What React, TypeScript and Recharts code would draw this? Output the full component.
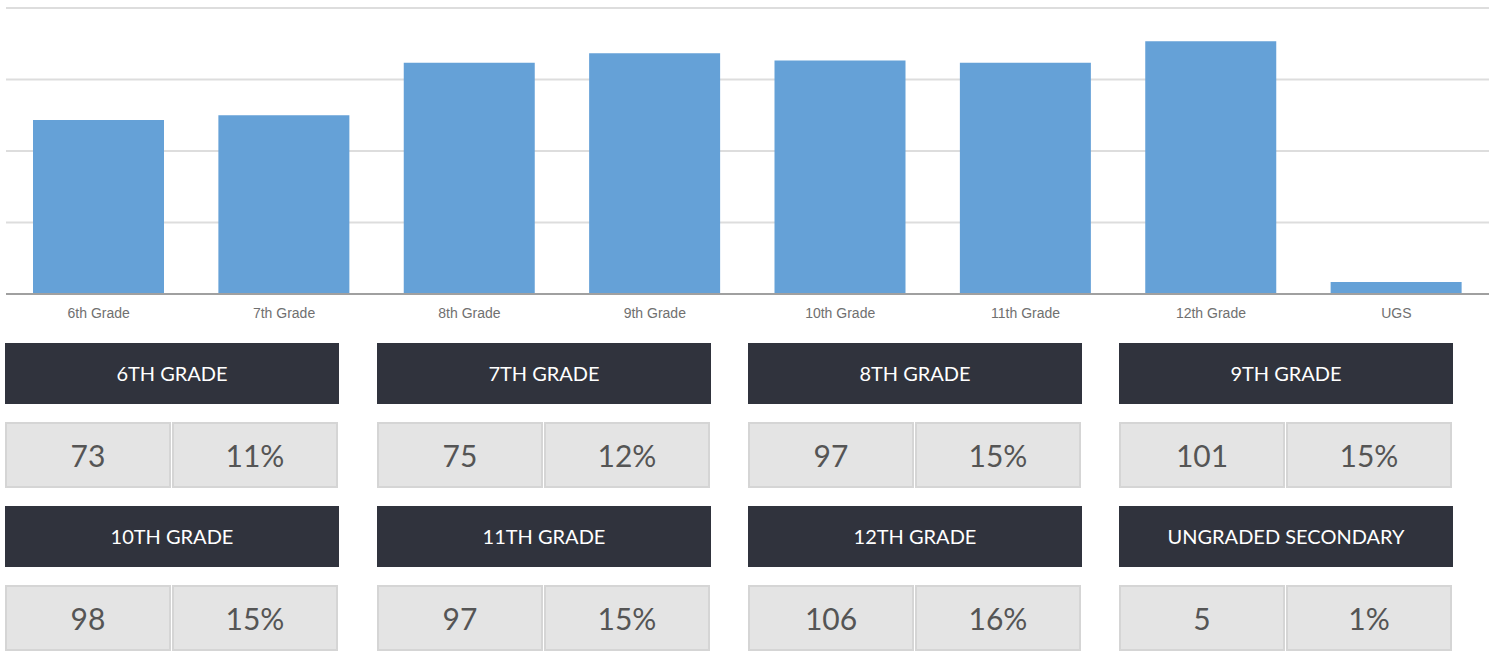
import { BarChart, Bar, XAxis, YAxis, CartesianGrid } from 'recharts';

const gradeLabels = ['6th Grade', '7th Grade', '8th Grade', '9th Grade', '10th Grade', '11th Grade', '12th Grade', 'UGS'];
const gradeTitles = ['6TH GRADE', '7TH GRADE', '8TH GRADE', '9TH GRADE', '10TH GRADE', '11TH GRADE', '12TH GRADE', 'UNGRADED SECONDARY'];
const students = [73, 75, 97, 101, 98, 97, 106, 5];
const percents = ['11%', '12%', '15%', '15%', '15%', '15%', '16%', '1%'];
const yTicks = [0, 30, 60, 90, 120];

const data = gradeLabels.map((grade, i) => ({ grade, count: students[i] }));

const colLeft = [5, 377, 748, 1119];
const rowTop = [343, 506];

function Tile({ i }: { i: number }) {
    const left = colLeft[i % 4];
    const top = rowTop[Math.floor(i / 4)];
    const cell: React.CSSProperties = {
        width: 166,
        height: 66,
        boxSizing: 'border-box',
        background: '#e4e4e4',
        border: '2px solid #d5d5d5',
        display: 'flex',
        alignItems: 'center',
        justifyContent: 'center',
        fontSize: 30,
        color: '#555',
    };
    return (
        <div style={{ position: 'absolute', left, top, width: 334, fontFamily: 'Lato, sans-serif' }}>
            <div
                style={{
                    height: 61,
                    background: '#30333d',
                    color: '#fff',
                    fontSize: 20,
                    display: 'flex',
                    alignItems: 'center',
                    justifyContent: 'center',
                    paddingBottom: 2,
                    boxSizing: 'border-box',
                }}
            >
                {gradeTitles[i]}
            </div>
            <div style={{ display: 'flex', marginTop: 18, gap: 1 }}>
                <div style={cell}>{students[i]}</div>
                <div style={cell}>{percents[i]}</div>
            </div>
        </div>
    );
}

export default function App() {
    return (
        <div style={{ position: 'absolute', left: 0, top: 0, width: 1489, height: 651, background: '#fff' }}>
            <BarChart
                width={1489}
                height={330}
                data={data}
                margin={{ top: 8, right: 0, left: 6, bottom: 0 }}
                barSize={131}
            >
                <CartesianGrid horizontal vertical={false} stroke="#dddddd" strokeWidth={2} />
                <YAxis hide domain={[0, 120]} ticks={yTicks} width={0} />
                <XAxis
                    dataKey="grade"
                    axisLine={{ stroke: '#a0a0a0', strokeWidth: 2 }}
                    tickLine={false}
                    tickMargin={8}
                    height={36}
                    interval={0}
                    tick={{ fill: '#707070', fontSize: 14, fontFamily: '"Liberation Sans", Arial, sans-serif' }}
                />
                <Bar dataKey="count" fill="#65a1d7" isAnimationActive={false} />
            </BarChart>
            {gradeTitles.map((_, i) => (
                <Tile key={i} i={i} />
            ))}
        </div>
    );
}
